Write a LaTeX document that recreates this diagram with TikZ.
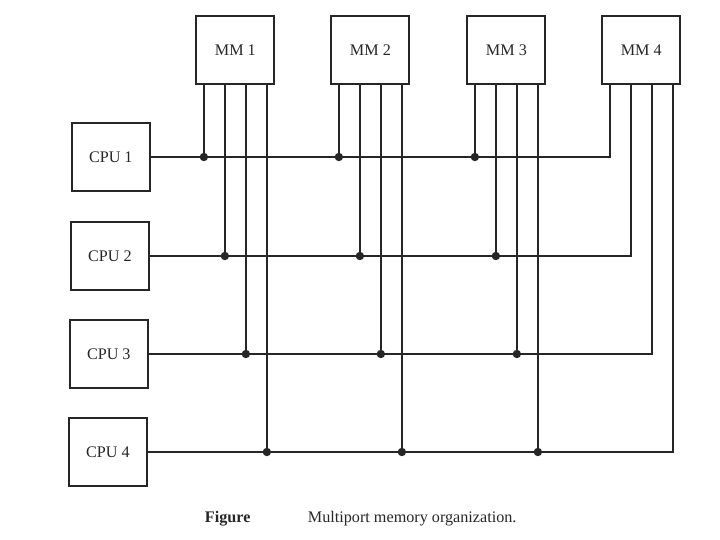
\documentclass[tikz,border=0pt]{standalone}
\usepackage{fontspec}
\setmainfont{Liberation Serif}
\usetikzlibrary{positioning,calc}
\definecolor{inkgrey}{RGB}{38,38,38}
\tikzset{
    unitbox/.style={draw=inkgrey, line width=1.4pt, fill=white,
                    minimum width=1.95cm, minimum height=1.72cm,
                    font=\fontsize{11.5}{13}\selectfont, text=inkgrey},
    bus/.style={draw=inkgrey, line width=1.3pt},
    tap/.style={circle, fill=inkgrey, inner sep=0pt, minimum size=0.21cm},
    caption/.style={anchor=west, font=\fontsize{11.5}{13}\selectfont, text=inkgrey},
}

\begin{document}
\begin{tikzpicture}
    \useasboundingbox[fill=white] (0,0) rectangle (18,13.5);

    % memory modules
    \node[unitbox] (mm1) at (5.885,12.25) {MM 1};
    \node[unitbox] (mm2) at (9.26,12.25) {MM 2};
    \node[unitbox] (mm3) at (12.66,12.25) {MM 3};
    \node[unitbox] (mm4) at (16.03,12.25) {MM 4};

    % processors
    \node[unitbox] (cpu1) at (2.77,9.575) {CPU 1};
    \node[unitbox] (cpu2) at (2.75,7.1) {CPU 2};
    \node[unitbox] (cpu3) at (2.72,4.65) {CPU 3};
    \node[unitbox] (cpu4) at (2.70,2.2) {CPU 4};

    % memory ports
    \coordinate (p11) at ($(mm1.south)+(-0.7875,0)$);
    \coordinate (p12) at ($(mm1.south)+(-0.2625,0)$);
    \coordinate (p13) at ($(mm1.south)+(0.2625,0)$);
    \coordinate (p14) at ($(mm1.south)+(0.7875,0)$);
    \coordinate (p21) at ($(mm2.south)+(-0.7875,0)$);
    \coordinate (p22) at ($(mm2.south)+(-0.2625,0)$);
    \coordinate (p23) at ($(mm2.south)+(0.2625,0)$);
    \coordinate (p24) at ($(mm2.south)+(0.7875,0)$);
    \coordinate (p31) at ($(mm3.south)+(-0.7875,0)$);
    \coordinate (p32) at ($(mm3.south)+(-0.2625,0)$);
    \coordinate (p33) at ($(mm3.south)+(0.2625,0)$);
    \coordinate (p34) at ($(mm3.south)+(0.7875,0)$);
    \coordinate (p41) at ($(mm4.south)+(-0.7875,0)$);
    \coordinate (p42) at ($(mm4.south)+(-0.2625,0)$);
    \coordinate (p43) at ($(mm4.south)+(0.2625,0)$);
    \coordinate (p44) at ($(mm4.south)+(0.7875,0)$);

    % taps
    \node[tap] (t11) at (p11 |- cpu1.east) {};
    \node[tap] (t21) at (p21 |- cpu1.east) {};
    \node[tap] (t31) at (p31 |- cpu1.east) {};
    \node[tap] (t12) at (p12 |- cpu2.east) {};
    \node[tap] (t22) at (p22 |- cpu2.east) {};
    \node[tap] (t32) at (p32 |- cpu2.east) {};
    \node[tap] (t13) at (p13 |- cpu3.east) {};
    \node[tap] (t23) at (p23 |- cpu3.east) {};
    \node[tap] (t33) at (p33 |- cpu3.east) {};
    \node[tap] (t14) at (p14 |- cpu4.east) {};
    \node[tap] (t24) at (p24 |- cpu4.east) {};
    \node[tap] (t34) at (p34 |- cpu4.east) {};

    % buses
    \draw[bus] (cpu1.east) -| (p41);
    \draw[bus] (cpu2.east) -| (p42);
    \draw[bus] (cpu3.east) -| (p43);
    \draw[bus] (cpu4.east) -| (p44);

    \draw[bus] (p11) -- (t11.center);
    \draw[bus] (p21) -- (t21.center);
    \draw[bus] (p31) -- (t31.center);
    \draw[bus] (p12) -- (t12.center);
    \draw[bus] (p22) -- (t22.center);
    \draw[bus] (p32) -- (t32.center);
    \draw[bus] (p13) -- (t13.center);
    \draw[bus] (p23) -- (t23.center);
    \draw[bus] (p33) -- (t33.center);
    \draw[bus] (p14) -- (t14.center);
    \draw[bus] (p24) -- (t24.center);
    \draw[bus] (p34) -- (t34.center);

    % caption
    \node[caption, font=\fontsize{11.5}{13}\selectfont\bfseries] (figlabel) at (5.0,0.525) {Figure};
    \node[caption] (figtitle) at (7.575,0.525) {Multiport memory organization.};
\end{tikzpicture}
\end{document}
